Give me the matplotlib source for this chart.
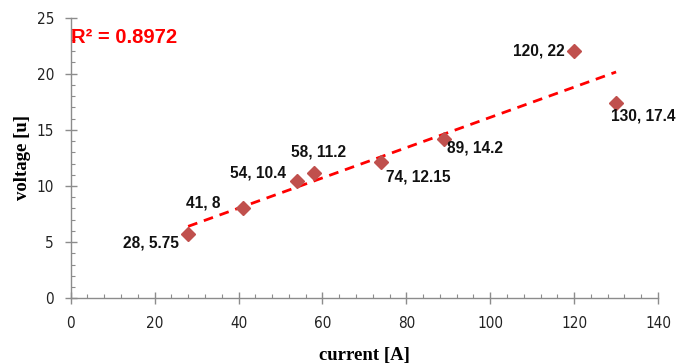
import numpy as np
import matplotlib
matplotlib.use("Agg")
import matplotlib.pyplot as plt
from matplotlib.ticker import MultipleLocator

current = [28, 41, 54, 58, 74, 89, 120, 130]
voltage = [5.75, 8, 10.4, 11.2, 12.15, 14.2, 22, 17.4]
labels = ["28, 5.75", "41, 8", "54, 10.4", "58, 11.2", "74, 12.15", "89, 14.2", "120, 22", "130, 17.4"]
r2_text = "R² = 0.8972"

# label offsets in points (style)
offsets = [(-26.5, -6.5), (-28.5, 4), (-28.5, 6), (3.5, 14.5), (26.5, -11), (22, -6.5), (-25.5, 0), (19.5, -9.5)]

fig = plt.figure(figsize=(6.91, 3.64), dpi=100)
ax = fig.add_axes([0.1023, 0.1805, 0.8500, 0.7714])

x = np.array(current, dtype=float)
y = np.array(voltage, dtype=float)
m, b = np.polyfit(x, y, 1)
xs = np.array([x.min(), x.max()])
ax.plot(xs, m * xs + b, color="#FF0000", lw=2.0, linestyle=(0, (3.5, 2.5)), zorder=2)

ax.plot(x, y, linestyle="none", marker="D", markersize=7, color="#C0504D",
        markeredgecolor="#C0504D", zorder=3)

for xi, yi, lab, off in zip(current, voltage, labels, offsets):
    ax.annotate(lab, (xi, yi), xytext=off, textcoords="offset points",
                ha="center", va="center", fontsize=11.2, fontweight="bold",
                family="Liberation Sans", color="#111111")

ax.text(0.0, 0.928, r2_text, transform=ax.transAxes, color="#FF0000",
        fontsize=14.5, fontweight="bold", family="Liberation Sans", ha="left", va="center")

ax.set_xlim(0, 140)
ax.set_ylim(0, 25)
ax.xaxis.set_major_locator(MultipleLocator(20))
ax.xaxis.set_minor_locator(MultipleLocator(4))
ax.yaxis.set_major_locator(MultipleLocator(5))
ax.yaxis.set_minor_locator(MultipleLocator(1))

for s in ["top", "right"]:
    ax.spines[s].set_visible(False)
for s in ["left", "bottom"]:
    ax.spines[s].set_color("#8C8C8C")
    ax.spines[s].set_linewidth(1.0)

ax.tick_params(which="major", direction="inout", length=8, width=1.0, color="#8C8C8C",
               labelsize=11, labelcolor="#222222")
ax.tick_params(which="minor", direction="in", length=3, width=0.8, color="#8C8C8C")
ax.tick_params(axis="x", which="major", pad=9)
ax.tick_params(axis="y", which="major", pad=8)
for lab in ax.get_xticklabels() + ax.get_yticklabels():
    lab.set_family("DejaVu Sans")
    lab.set_stretch("condensed")

ax.set_xlabel("current [A]", fontsize=13.5, fontweight="bold", family="Liberation Serif", labelpad=11)
ax.set_ylabel("voltage [u]", fontsize=13.5, fontweight="bold", family="Liberation Serif", labelpad=4)

fig.savefig("out.png", dpi=100)
